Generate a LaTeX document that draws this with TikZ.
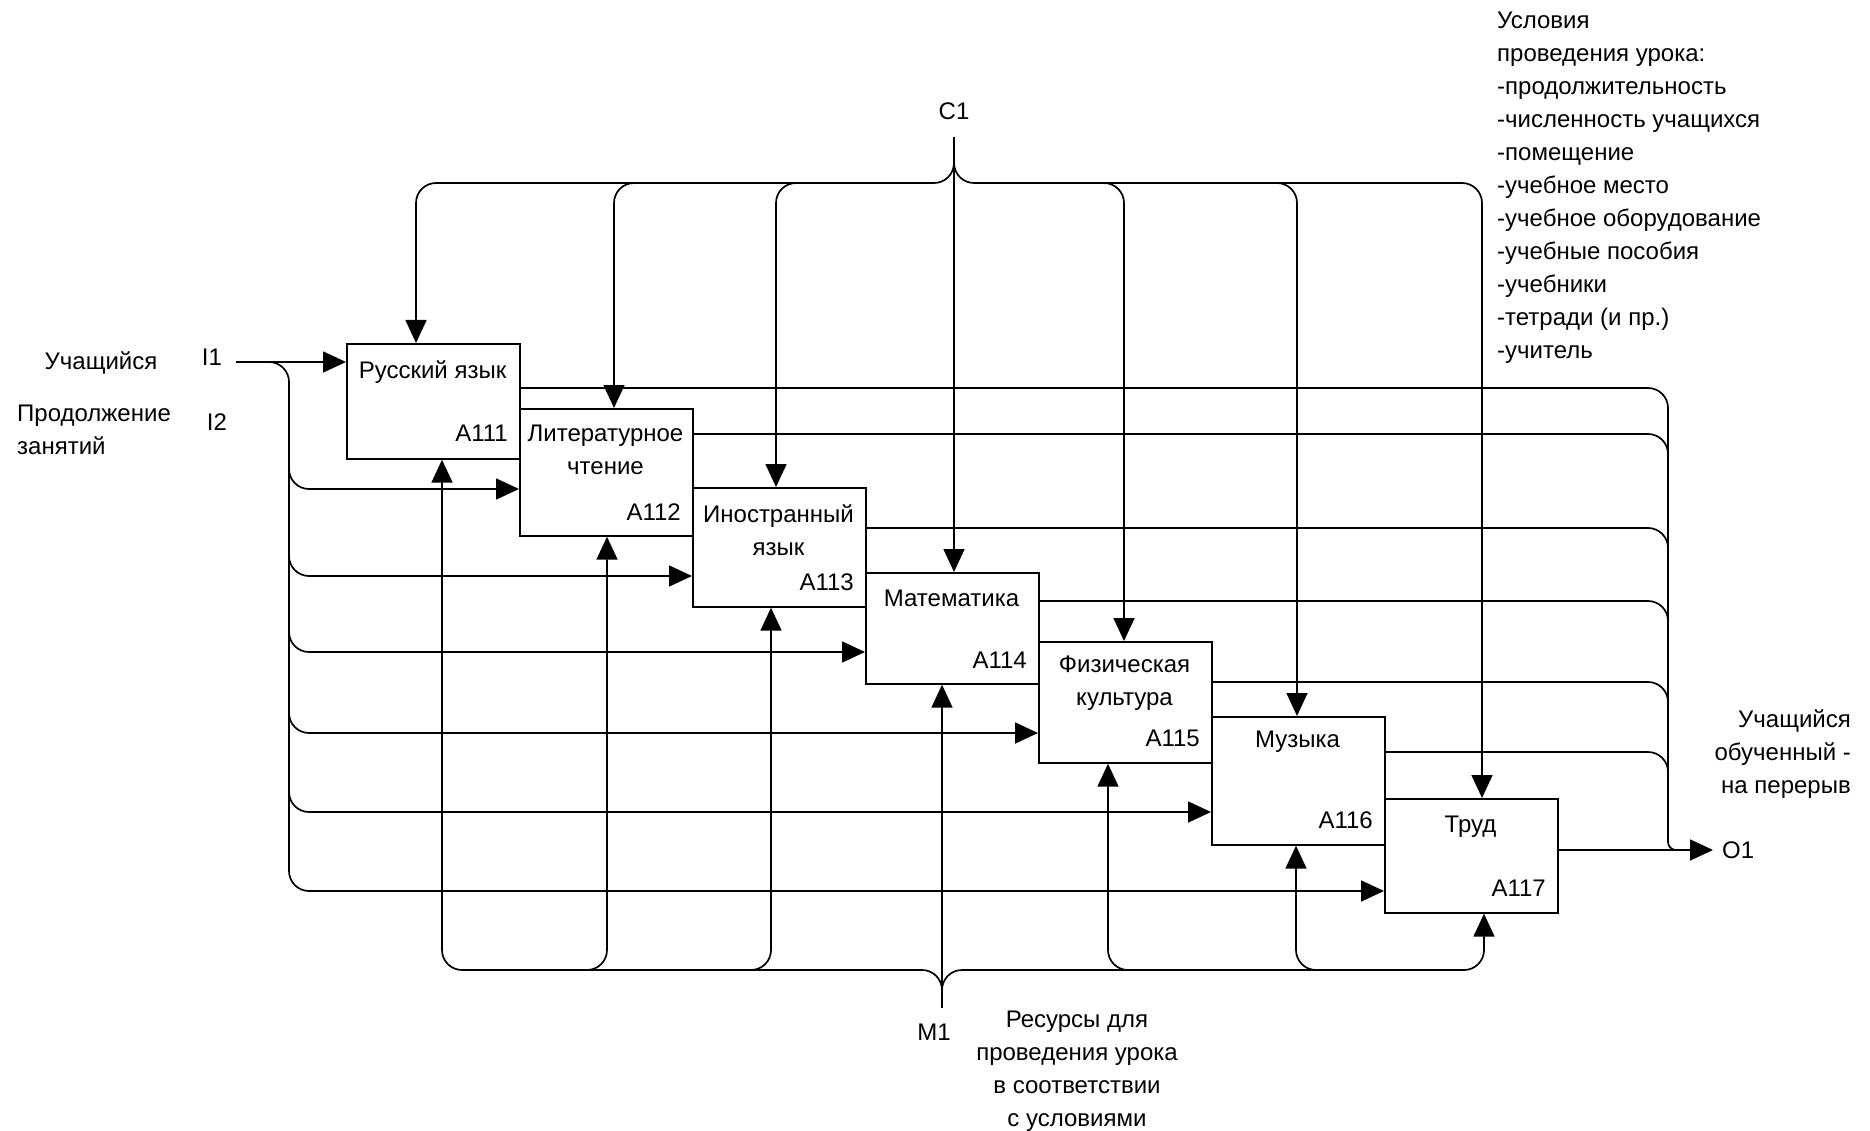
\documentclass[tikz,border=0pt]{standalone}
\usepackage{fontspec}
\setmainfont{Liberation Sans}
\usetikzlibrary{arrows.meta}
\begin{document}
\begin{tikzpicture}[x=1pt,y=-1pt,
  conn/.style={line width=1.7pt, rounded corners=20pt},
  arr/.style={conn, -{Triangle[length=23pt,width=21pt]}},
  fbox/.style={draw, line width=1.7pt, minimum width=173pt, anchor=north west, inner sep=0pt, fill=white},
  lbl/.style={font=\fontsize{24}{33}\selectfont, inner sep=0pt}]
\useasboundingbox (0,0) rectangle (1870,1131);

% ---------- boxes ----------
\node[fbox, minimum height=115pt] (a111) at (346,343) {};
\node[fbox, minimum height=127pt] (a112) at (519,408) {};
\node[fbox, minimum height=119pt] (a113) at (692,487) {};
\node[fbox, minimum height=111pt] (a114) at (865,572) {};
\node[fbox, minimum height=121pt] (a115) at (1038,641) {};
\node[fbox, minimum height=128pt] (a116) at (1211,716) {};
\node[fbox, minimum height=114pt] (a117) at (1384,798) {};

% box names
\node[lbl] (n111) at (432.5,372) {Русский язык};
\node[lbl, align=center] (n112) at (605.5,450) {Литературное\\чтение};
\node[lbl, align=center] (n113) at (778.5,530) {Иностранный\\язык};
\node[lbl] (n114) at (951.5,598) {Математика};
\node[lbl, align=center] (n115) at (1124.5,683.5) {Физическая\\культура};
\node[lbl] (n116) at (1297.5,742) {Музыка};
\node[lbl] (n117) at (1470.5,827) {Труд};
% box codes
\node[lbl, anchor=east] (c111) at (508,433) {A111};
\node[lbl, anchor=east] (c112) at (681,512) {A112};
\node[lbl, anchor=east] (c113) at (854,582) {A113};
\node[lbl, anchor=east] (c114) at (1027,660) {A114};
\node[lbl, anchor=east] (c115) at (1200,738) {A115};
\node[lbl, anchor=east] (c116) at (1373,820) {A116};
\node[lbl, anchor=east] (c117) at (1546,888) {A117};

% ---------- free labels ----------
\node[lbl] (tuch) at (101,363) {Учащийся};
\node[lbl] (ti1) at (212,357) {I1};
\node[lbl] (ti2) at (217,422) {I2};
\node[lbl, align=left, anchor=north west] (tprod) at (17,405) {Продолжение\\занятий};
\node[lbl] (tc1) at (954,111) {C1};
\node[lbl] (tm1) at (934,1032) {M1};
\node[lbl, anchor=west] (to1) at (1722,850) {O1};
\node[lbl, align=right, anchor=north east] (tout) at (1851,709) {Учащийся\\обученный -\\на перерыв};
\node[lbl, align=left, anchor=north west] (tcond) at (1497,12) {Условия\\проведения урока:\\-продолжительность\\-численность учащихся\\-помещение\\-учебное место\\-учебное оборудование\\-учебные пособия\\-учебники\\-тетради (и пр.)\\-учитель};
\node[lbl, align=center, anchor=north] (tres) at (1077,1011) {Ресурсы для\\проведения урока\\в соответствии\\с условиями};

% ---------- controls (C1) ----------
\coordinate (c1top) at (954,137);
\draw[arr] (c1top) -- (954,0 |- a114.north);
\draw[arr] (954,150) -- (954,183) -- (416,183) -- (416,0 |- a111.north);
\draw[arr] (660,183) -- (614,183) -- (614,0 |- a112.north);
\draw[arr] (822,183) -- (776,183) -- (776,0 |- a113.north);
\draw[arr] (1078,183) -- (1124,183) -- (1124,0 |- a115.north);
\draw[arr] (1251,183) -- (1297,183) -- (1297,0 |- a116.north);
\draw[arr] (954,150) -- (954,183) -- (1482,183) -- (1482,0 |- a117.north);

% ---------- mechanisms (M1) ----------
\coordinate (m1bot) at (942,1008);
\draw[arr] (m1bot) -- (942,0 |- a114.south);
\draw[arr] (942,1000) -- (942,970) -- (442,970) -- (442,0 |- a111.south);
\draw[arr] (561,970) -- (607,970) -- (607,0 |- a112.south);
\draw[arr] (725,970) -- (771,970) -- (771,0 |- a113.south);
\draw[arr] (1154,970) -- (1108,970) -- (1108,0 |- a115.south);
\draw[arr] (1342,970) -- (1296,970) -- (1296,0 |- a116.south);
\draw[arr] (942,1000) -- (942,970) -- (1484,970) -- (1484,0 |- a117.south);

% ---------- inputs (I1) ----------
\coordinate (i1start) at (236,362);
\draw[arr] (i1start) -- (i1start -| a111.west);
\draw[arr] (250,362) -- (289,362) -- (289,891) -- (289,891 -| a117.west);
\draw[arr] (289,460) -- (289,489) -- (289,489 -| a112.west);
\draw[arr] (289,547) -- (289,576) -- (289,576 -| a113.west);
\draw[arr] (289,623) -- (289,652) -- (289,652 -| a114.west);
\draw[arr] (289,704) -- (289,733) -- (289,733 -| a115.west);
\draw[arr] (289,783) -- (289,812) -- (289,812 -| a116.west);

% ---------- outputs (O1) ----------
\coordinate (o1end) at (1713,850);
\draw[conn] (a111.east |- 0,388) -- (1668,388) -- (1668,830);
\draw[line width=1.7pt, rounded corners=8pt] (1668,820) -- (1668,850) -- (1695,850);
\draw[conn] (a112.east |- 0,434) -- (1668,434) -- (1668,470);
\draw[conn] (a113.east |- 0,528) -- (1668,528) -- (1668,565);
\draw[conn] (a114.east |- 0,601) -- (1668,601) -- (1668,640);
\draw[conn] (a115.east |- 0,682) -- (1668,682) -- (1668,720);
\draw[conn] (a116.east |- 0,752) -- (1668,752) -- (1668,790);
\draw[arr] (a117.east |- 0,850) -- (o1end);
\end{tikzpicture}
\end{document}
